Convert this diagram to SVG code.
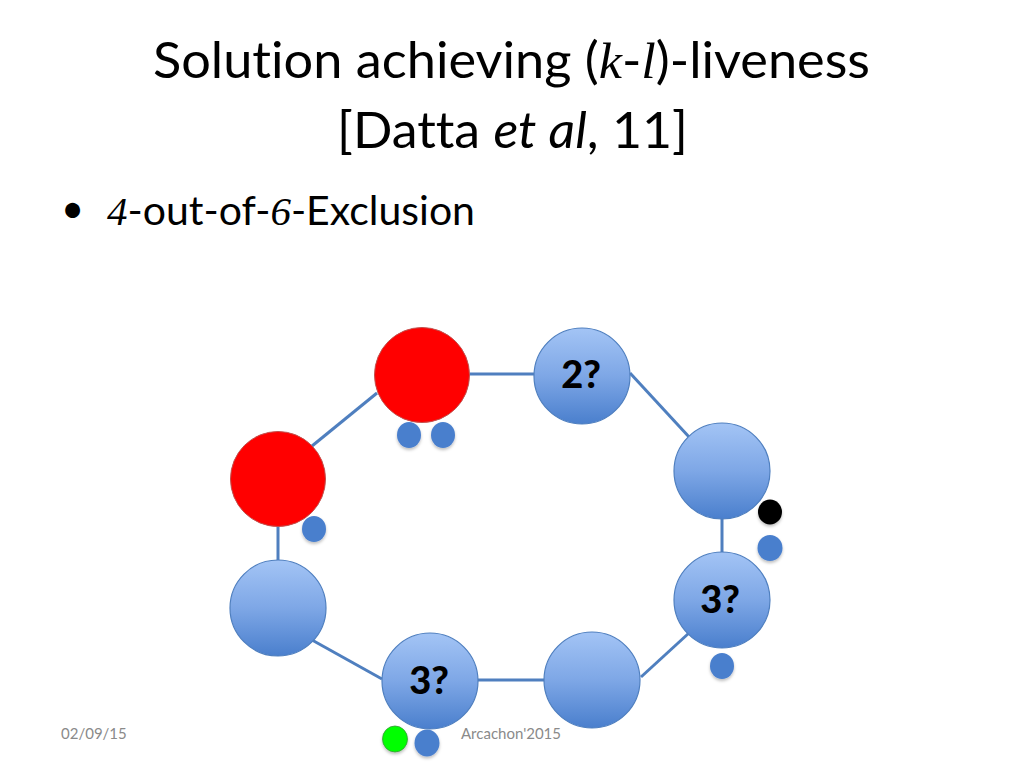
<svg xmlns="http://www.w3.org/2000/svg" width="1024" height="768" viewBox="0 0 1024 768">
  <defs>
    <linearGradient id="blueGrad" x1="0" y1="0" x2="0" y2="1">
      <stop offset="0" stop-color="#a3c4f5"/>
      <stop offset="0.5" stop-color="#7ea7e6"/>
      <stop offset="1" stop-color="#4a7fcd"/>
    </linearGradient>
    <filter id="shadow" x="-30%" y="-30%" width="160%" height="160%">
      <feDropShadow dx="0" dy="2" stdDeviation="1.5" flood-color="#000" flood-opacity="0.25"/>
    </filter>
  </defs>
  <style>
    text { font-variant-ligatures: none; font-feature-settings: "liga" 0, "dlig" 0; }
    .title { font-family: Lato, "Liberation Sans", sans-serif; font-size: 51px; fill: #000; }
    .script { font-family: "Liberation Serif", "DejaVu Serif", serif; font-style: italic; }
    .bullet { font-family: Lato, "Liberation Sans", sans-serif; font-size: 40px; fill: #000; }
    .footer { font-family: Lato, "Liberation Sans", sans-serif; font-size: 15px; fill: #8a8a8a; }
    .node { fill: url(#blueGrad); stroke: #4f7fbf; stroke-width: 1.2; }
    .red { fill: #ff0000; stroke: #c0504d; stroke-width: 1; }
    .lbl { font-family: Lato, "Liberation Sans", sans-serif; font-weight: 900; font-size: 38px; fill: #000; text-anchor: middle; }
    .edge { stroke: #4f7fbf; stroke-width: 3; fill: none; }
    .dot { fill: #4a7fcd; filter: url(#shadow); }
  </style>

  <rect width="1024" height="768" fill="#ffffff"/>

  <text class="title" x="153" y="78" textLength="717" lengthAdjust="spacingAndGlyphs">Solution achieving (<tspan class="script">k</tspan>-<tspan class="script">l</tspan>)-liveness</text>
  <text class="title" x="337" y="148" textLength="351" lengthAdjust="spacingAndGlyphs">[Datta <tspan font-style="italic">et al</tspan>, 11]</text>

  <text class="bullet" x="61" y="223" font-size="30">•</text>
  <text class="bullet" x="107" y="225" textLength="368" lengthAdjust="spacingAndGlyphs"><tspan class="script">4</tspan>-out-of-<tspan class="script">6</tspan>-Exclusion</text>

  <g id="connectors">
    <line class="edge" x1="312" y1="446" x2="377" y2="393"/>
    <line class="edge" x1="470" y1="374" x2="534" y2="374"/>
    <line class="edge" x1="630" y1="373" x2="690" y2="438"/>
    <line class="edge" x1="722" y1="518" x2="722" y2="553"/>
    <line class="edge" x1="689" y1="633" x2="641" y2="677"/>
    <line class="edge" x1="478" y1="680" x2="544" y2="680"/>
    <line class="edge" x1="382" y1="679" x2="312" y2="640"/>
    <line class="edge" x1="278" y1="526" x2="278" y2="561"/>
  </g>

  <g id="node-red-top">
    <circle class="red" cx="422" cy="375" r="47.5"/>
  </g>
  <g id="node-2">
    <circle class="node" cx="582" cy="376" r="48"/>
    <text class="lbl" x="581" y="388">2?</text>
  </g>
  <g id="node-right-top">
    <circle class="node" cx="722" cy="471" r="48"/>
  </g>
  <g id="node-3-right">
    <circle class="node" cx="722" cy="600" r="48"/>
    <text class="lbl" x="720" y="613">3?</text>
  </g>
  <g id="node-bottom-right">
    <circle class="node" cx="592" cy="680" r="48"/>
  </g>
  <g id="node-3-bottom">
    <circle class="node" cx="430" cy="681" r="48"/>
    <text class="lbl" x="429" y="694">3?</text>
  </g>
  <g id="node-left-bottom">
    <circle class="node" cx="278" cy="608" r="48"/>
  </g>
  <g id="node-red-left">
    <circle class="red" cx="278" cy="479" r="47.5"/>
  </g>

  <g id="tokens">
    <ellipse class="dot" cx="409" cy="435" rx="12" ry="13"/>
    <ellipse class="dot" cx="443" cy="435" rx="12" ry="13"/>
    <ellipse class="dot" cx="314" cy="529" rx="12" ry="13"/>
    <ellipse cx="770" cy="512" rx="12" ry="12.5" fill="#000000" filter="url(#shadow)"/>
    <ellipse class="dot" cx="770" cy="548" rx="12.5" ry="13"/>
    <ellipse class="dot" cx="722" cy="666" rx="12" ry="13"/>
    <ellipse cx="395" cy="739" rx="12.5" ry="13" fill="#00ff00" stroke="#3a9a3a" stroke-width="0.8" filter="url(#shadow)"/>
    <ellipse class="dot" cx="427" cy="743" rx="12.5" ry="13.5"/>
  </g>

  <text class="footer" x="61" y="739">02/09/15</text>
  <text class="footer" x="461" y="739">Arcachon'2015</text>
</svg>
